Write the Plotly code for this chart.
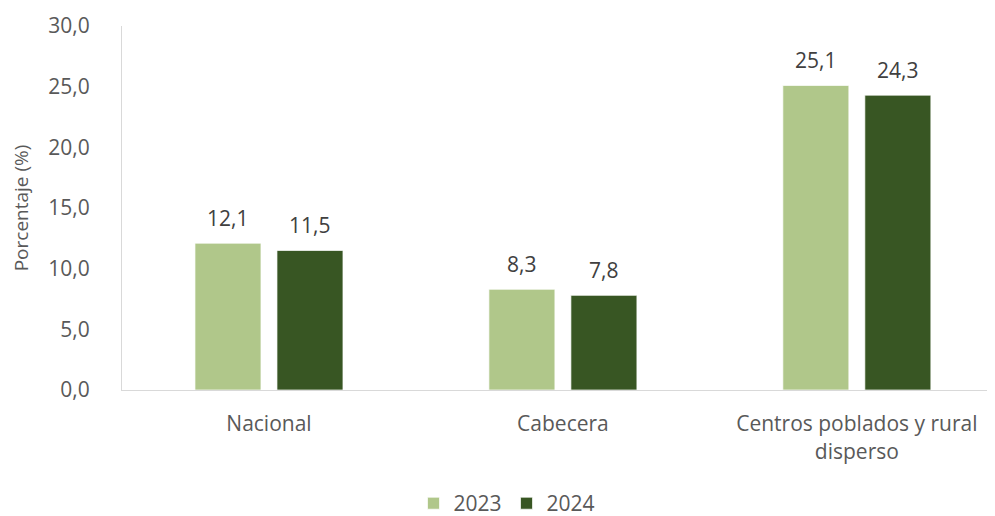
import plotly.graph_objects as go

categories = ["Nacional", "Cabecera", "Centros poblados y rural<br>disperso"]
values_2023 = [12.1, 8.3, 25.1]
values_2024 = [11.5, 7.8, 24.3]
series_names = ["2023", "2024"]
y_ticks = [0, 5, 10, 15, 20, 25, 30]

FONT = "Open Sans"
LABEL_COLOR = "#404040"
AXIS_TEXT = "#595959"

fig = go.Figure()
fig.add_trace(go.Bar(
    x=categories, y=values_2023, name=series_names[0],
    marker=dict(color="#B0C78A", line=dict(color="rgba(255,255,255,0.7)", width=1)),
))
fig.add_trace(go.Bar(
    x=categories, y=values_2024, name=series_names[1],
    marker=dict(color="#385623", line=dict(color="rgba(255,255,255,0.7)", width=1)),
))

# data labels above each bar
for vals, shift in ((values_2023, -41), (values_2024, 41)):
    for cat, v in zip(categories, vals):
        fig.add_annotation(
            x=cat, y=v, text=f"{v:.1f}".replace(".", ","), showarrow=False,
            xshift=shift, yshift=9, yanchor="bottom",
            font=dict(family=FONT, size=21, color=LABEL_COLOR),
        )

# page body has an 8px margin, so the figure is sized to fit the window
fig.update_layout(
    width=987, height=508,
    margin=dict(l=114, r=0, t=18, b=126, autoexpand=False),
    paper_bgcolor="white", plot_bgcolor="white",
    separators=",.",
    barmode="group", bargap=0.442, bargroupgap=0.195,
    font=dict(family=FONT, color=AXIS_TEXT, size=21),
    showlegend=True,
    legend=dict(orientation="h", x=0.441, xanchor="center",
                y=-0.312, yanchor="middle",
                font=dict(size=21, color=AXIS_TEXT), itemwidth=30, traceorder="normal"),
)
fig.update_xaxes(
    range=[-0.5, 2.47], showline=True, linecolor="#D9D9D9", linewidth=1,
    showgrid=False, ticks="", tickfont=dict(size=21, color=AXIS_TEXT),
    ticklabelstandoff=15, automargin=False, fixedrange=True,
)
fig.update_yaxes(
    range=[0, 30], tickvals=y_ticks, tickformat=".1f", showline=True,
    linecolor="#D9D9D9", linewidth=1, showgrid=False, zeroline=False, ticks="",
    tickfont=dict(size=21, color=AXIS_TEXT), ticklabelstandoff=27, automargin=False,
    title=dict(text="Porcentaje (%)", font=dict(size=19, color=AXIS_TEXT), standoff=16),
)
fig.write_html("out.html")
